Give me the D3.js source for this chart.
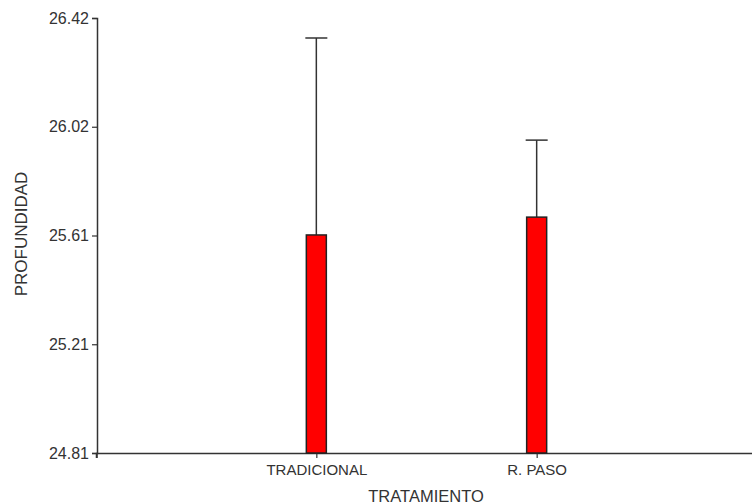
<!DOCTYPE html>
<html><head><meta charset="utf-8">
<script src="https://cdn.jsdelivr.net/npm/d3@7"></script>
<style>body{margin:0;background:#fff;}svg{display:block;font-family:"Liberation Sans",Arial,sans-serif;}</style>
</head><body>
<svg id="c" width="752" height="504"></svg>
<script>
const categories = ["TRADICIONAL", "R. PASO"];
const means = [25.617, 25.683];
const upperErr = [26.346, 25.968];
const yTicks = [24.81, 25.21, 25.61, 26.02, 26.42];
const yDomain = [24.81, 26.42];

const svg = d3.select("#c");
const y = d3.scaleLinear().domain(yDomain).range([453, 18]);
const x = d3.scalePoint().domain(categories).range([96, 757]).padding(1);
const tickVals = yTicks.map((t, i) => yDomain[0] + i * (yDomain[1] - yDomain[0]) / (yTicks.length - 1));

const ink = "#333";
// y axis
const ya = svg.append("g").attr("transform", "translate(97,0)")
  .call(d3.axisLeft(y).tickValues(tickVals).tickFormat((d, i) => yTicks[i].toFixed(2)).tickSizeOuter(0).tickSize(5));
ya.select(".domain").attr("stroke", ink).attr("stroke-width", 1.5);
ya.selectAll(".tick line").attr("stroke", ink).attr("stroke-width", 1.2);
ya.selectAll(".tick text").attr("fill", ink).style("font-size", "16px").attr("x", -8);

// x axis
const xa = svg.append("g").attr("transform", "translate(0,453)")
  .call(d3.axisBottom(x).tickSizeOuter(0).tickSize(5));
xa.select(".domain").attr("stroke", ink).attr("stroke-width", 1.5);
xa.selectAll(".tick line").attr("stroke", ink).attr("stroke-width", 1.2);
xa.selectAll(".tick text").attr("fill", ink).style("font-size", "15px").attr("y", 11);
svg.append("line").attr("x1", 97).attr("x2", 97).attr("y1", 453).attr("y2", 458).attr("stroke", ink).attr("stroke-width", 1.5);

const bw = 20, cw = 22;
const g = svg.append("g");
categories.forEach((c, i) => {
  const cx = x(c);
  g.append("line").attr("x1", cx).attr("x2", cx).attr("y1", y(means[i])).attr("y2", y(upperErr[i]))
    .attr("stroke", ink).attr("stroke-width", 1.5);
  g.append("line").attr("x1", cx - cw / 2).attr("x2", cx + cw / 2).attr("y1", y(upperErr[i])).attr("y2", y(upperErr[i]))
    .attr("stroke", ink).attr("stroke-width", 1.5);
  g.append("rect").attr("x", cx - bw / 2).attr("width", bw).attr("y", y(means[i])).attr("height", y(yDomain[0]) - y(means[i]))
    .attr("fill", "#ff0000").attr("stroke", "#222").attr("stroke-width", 1.5);
});

svg.append("text").attr("x", 426).attr("y", 502).attr("text-anchor", "middle")
  .attr("fill", ink).style("font-size", "16.5px").text("TRATAMIENTO");
svg.append("text").attr("transform", "translate(27,234) rotate(-90)").attr("text-anchor", "middle")
  .attr("fill", ink).style("font-size", "17px").text("PROFUNDIDAD");
</script>
</body></html>
